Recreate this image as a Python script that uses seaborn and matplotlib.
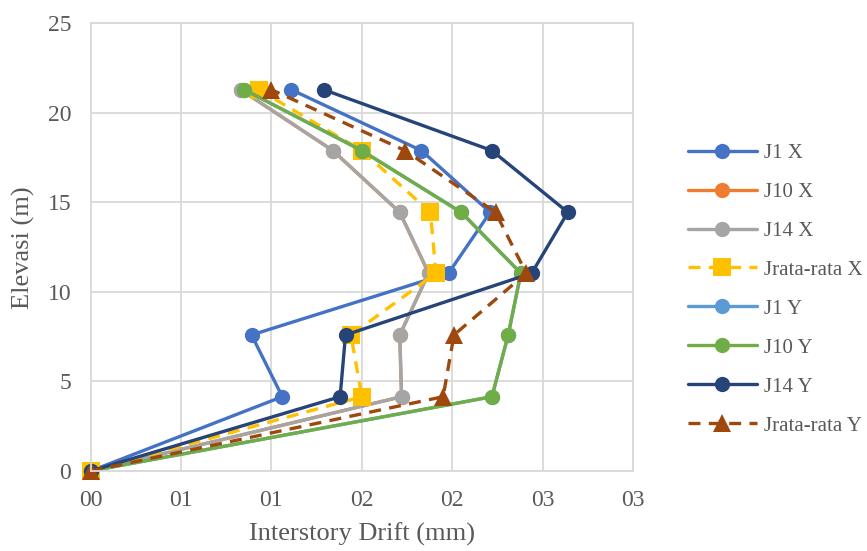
import matplotlib
matplotlib.use("Agg")
import matplotlib.pyplot as plt
import seaborn as sns
import pandas as pd

# Storey elevations (m)
heights = [0, 4.15, 7.6, 11.05, 14.45, 17.9, 21.3]

# Interstory drift per joint and direction (mm)
j1_x = [0, 1.06, 0.89, 1.98, 2.21, 1.83, 1.11]
j10_x = [0, 1.72, 1.71, 1.87, 1.71, 1.34, 0.83]
j14_x = [0, 1.72, 1.71, 1.87, 1.71, 1.34, 0.83]
avg_x = [0, 1.50, 1.44, 1.91, 1.88, 1.50, 0.93]
j1_y = [0, 2.22, 2.31, 2.38, 2.05, 1.50, 0.85]
j10_y = [0, 2.22, 2.31, 2.38, 2.05, 1.50, 0.85]
j14_y = [0, 1.38, 1.41, 2.44, 2.64, 2.22, 1.29]
avg_y = [0, 1.95, 2.01, 2.41, 2.24, 1.74, 1.00]

series_names = ["J1 X", "J10 X", "J14 X", "Jrata-rata X",
                "J1 Y", "J10 Y", "J14 Y", "Jrata-rata Y"]
series_values = [j1_x, j10_x, j14_x, avg_x, j1_y, j10_y, j14_y, avg_y]

x_ticks = [0, 0.5, 1.0, 1.5, 2.0, 2.5, 3.0]
x_tick_labels = ["00", "01", "01", "02", "02", "03", "03"]
y_ticks = [0, 5, 10, 15, 20, 25]

colors = ["#4472C4", "#ED7D31", "#A5A5A5", "#FFC000",
          "#5B9BD5", "#70AD47", "#264478", "#9E480E"]
markers = ["o", "o", "o", "s", "o", "o", "o", "^"]
marker_sizes = [11, 11, 11, 12.5, 11, 11, 11, 13]
dashed = [False, False, False, True, False, False, False, True]

text_color = "#595959"
grid_color = "#D9D9D9"

sns.set_theme(style="white")
plt.rcParams["font.family"] = ["Liberation Serif", "DejaVu Serif"]

fig = plt.figure(figsize=(8.67, 5.51), dpi=100)
ax = fig.add_axes([0.1046, 0.1452, 0.6254, 0.8122])

for name, vals, c, m, ms, d in zip(series_names, series_values, colors,
                                   markers, marker_sizes, dashed):
    df = pd.DataFrame({"drift": vals, "elev": heights})
    line_kw = dict(linestyle=(0, (3.6, 2.5))) if d else {}
    sns.lineplot(data=df, x="drift", y="elev", ax=ax, sort=False,
                 estimator=None, color=c, marker=m, markersize=ms,
                 markeredgecolor=c, markeredgewidth=0, linewidth=2.4,
                 label=name, clip_on=False, **line_kw)

ax.set_xlim(0, 3)
ax.set_ylim(0, 25)
ax.set_xticks(x_ticks)
ax.set_xticklabels(x_tick_labels)
ax.set_yticks(y_ticks)
ax.grid(True, color=grid_color, linewidth=1.3)
ax.set_axisbelow(True)
for s in ax.spines.values():
    s.set_color(grid_color)
    s.set_linewidth(1.3)
ax.tick_params(axis="both", length=0, labelsize=17, labelcolor=text_color)
ax.tick_params(axis="x", pad=14)
ax.tick_params(axis="y", pad=14)

ax.set_xlabel("Interstory Drift (mm)", fontsize=19, color=text_color, labelpad=8)
ax.set_ylabel("Elevasi (m)", fontsize=19, color=text_color, labelpad=9)

leg = ax.legend(loc="upper left", bbox_to_anchor=(0.784, 0.755),
                bbox_transform=fig.transFigure, frameon=False,
                fontsize=15, labelcolor=text_color, handlelength=3.3,
                handletextpad=0.33, labelspacing=0.93, borderaxespad=0)

fig.savefig("out.png", dpi=100)
